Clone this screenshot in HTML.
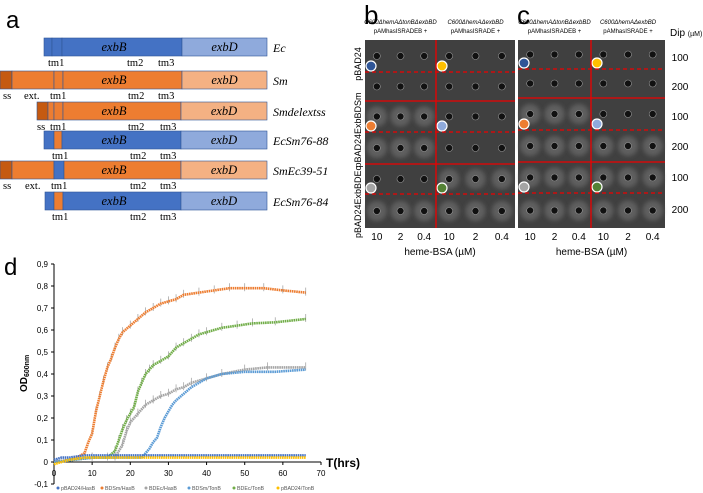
<!DOCTYPE html>
<html><head><meta charset="utf-8">
<style>
body{margin:0;background:#fff;width:703px;height:493px;overflow:hidden;font-family:"Liberation Sans",sans-serif}
svg{position:absolute;left:0;top:0}
.ser{font-family:"Liberation Serif",serif}
</style></head><body>
<svg id="fig" width="703" height="493" viewBox="0 0 703 493">
<defs><filter id="blur" x="-50%" y="-50%" width="200%" height="200%"><feGaussianBlur stdDeviation="2"/></filter></defs>
<g id="pa">
<text x="6" y="28" font-size="24">a</text>
</g>
<g id="pb">
<text x="364" y="24" font-size="26">b</text>
<text x="517" y="24" font-size="26">c</text>
</g>
<g id="pd">
<text x="4" y="275" font-size="24">d</text>
</g>
</svg>
<script>
// ---------- Panel d data ----------
const seriesNames=["pBAD24/HasB","BDSm/HasB","BDEc/HasB","BDSm/TonB","BDEc/TonB","pBAD24/TonB"];
const seriesColors=["#4472c4","#ed7d31","#a5a5a5","#5b9bd5","#70ad47","#ffc000"];
const tHasB0=[0,2,4,6,8,10,15,20,25,30,35,40,45,50,55,60,66];
const vHasB0=[0.01,0.02,0.02,0.025,0.03,0.03,0.03,0.03,0.03,0.03,0.03,0.03,0.03,0.03,0.03,0.03,0.03];
const tSmHasB=[0,4,6,8,9,10,11,12,13,14,15,16,17,18,20,22,24,26,28,30,32,34,38,42,46,50,55,60,66];
const vSmHasB=[0,0.01,0.02,0.04,0.09,0.13,0.23,0.30,0.37,0.43,0.47,0.52,0.56,0.59,0.62,0.65,0.68,0.70,0.72,0.73,0.74,0.76,0.77,0.78,0.79,0.79,0.79,0.78,0.77];
const tEcHasB=[0,5,10,16,18,19,20,22,24,26,28,30,32,34,36,40,44,50,56,66];
const vEcHasB=[0,0.01,0.02,0.02,0.08,0.14,0.18,0.22,0.26,0.28,0.30,0.31,0.33,0.34,0.36,0.38,0.40,0.42,0.43,0.43];
const tSmTonB=[0,5,10,15,20,23,25,26,27,28,29,30,31,32,34,36,38,40,44,50,58,66];
const vSmTonB=[0,0.01,0.02,0.02,0.02,0.02,0.06,0.09,0.11,0.16,0.20,0.23,0.26,0.28,0.31,0.34,0.36,0.38,0.40,0.41,0.41,0.42];
const tEcTonB=[0,5,10,14,16,17,18,19,20,21,22,23,24,25,26,28,30,32,34,36,38,40,44,48,52,58,66];
const vEcTonB=[0,0.01,0.02,0.02,0.05,0.10,0.15,0.19,0.22,0.25,0.32,0.36,0.40,0.42,0.44,0.46,0.48,0.52,0.54,0.56,0.58,0.59,0.61,0.62,0.63,0.635,0.65];
const tTonB0=[0,2,4,6,8,10,15,20,25,30,35,40,45,50,55,60,66];
const vTonB0=[-0.01,0.0,0.01,0.015,0.02,0.02,0.02,0.02,0.02,0.02,0.02,0.02,0.02,0.02,0.02,0.02,0.02];
const yTicks=["0,9","0,8","0,7","0,6","0,5","0,4","0,3","0,2","0,1","0","-0,1"];
const yTickVals=[0.9,0.8,0.7,0.6,0.5,0.4,0.3,0.2,0.1,0,-0.1];
const xTicks=[0,10,20,30,40,50,60,70];

const NS="http://www.w3.org/2000/svg";
function mk(tag,attrs,parent,txt){const e=document.createElementNS(NS,tag);for(const k in attrs)e.setAttribute(k,attrs[k]);if(txt!==undefined)e.textContent=txt;parent.appendChild(e);return e;}

const X=t=>54+t*(321-54)/70;
const Y=v=>462-v*(462-264)/0.9;
const pd=document.getElementById('pd');
let ax=mk('line',{x1:54,y1:Y(0.9),x2:54,y2:Y(-0.1),stroke:'#000','stroke-width':1},pd);


let xa=mk('line',{x1:54,y1:Y(0),x2:X(70),y2:Y(0),stroke:'#000','stroke-width':1},pd);


yTicks.forEach((l,i)=>{
  const y=Y(yTickVals[i]);
  let tk=mk('line',{x1:51,y1:y,x2:54,y2:y,stroke:'#000'},pd);
  
  
  let tl=mk('text',{x:48,y:y+3,'font-size':8,'text-anchor':'end'},pd,l);
  
  
});
xTicks.forEach(v=>{
  const x=X(v);
  let tk=mk('line',{x1:x,y1:Y(0),x2:x,y2:Y(0)+3,stroke:'#000'},pd);
  
  
  let tl=mk('text',{x:x,y:Y(0)+14,'font-size':8,'text-anchor':'middle'},pd,String(v));
  
  
});
let yt=mk('text',{x:0,y:0,'font-size':10,'font-weight':'bold',transform:'translate(27,392) rotate(-90)'},pd);
yt.innerHTML='OD<tspan font-size="7" dy="2">600nm</tspan>';


let xt=mk('text',{x:326,y:467,'font-size':12,'font-weight':'bold'},pd,'T(hrs)');



const sets=[[tHasB0,vHasB0],[tSmHasB,vSmHasB],[tEcHasB,vEcHasB],[tSmTonB,vSmTonB],[tEcTonB,vEcTonB],[tTonB0,vTonB0]];
const order=[2,1,4,3,0,5];
order.forEach(i=>{
  const [ts,vs]=sets[i];
  const g=mk('g',{},pd);
  
  
  if(i===2||i===4||i===1){
    ts.forEach((t,j)=>{ if(t>=10){ let eb=mk('line',{x1:X(t),y1:Y(vs[j])-5,x2:X(t),y2:Y(vs[j])+3,stroke:'#999','stroke-width':0.7},g);
      
      }});
  }
  let pl=mk('polyline',{points:ts.map((t,j)=>X(t)+','+Y(vs[j])).join(' '),fill:'none',stroke:seriesColors[i],'stroke-width':2.6,'stroke-dasharray':'1.6 0.6'},g);
  
  
});
let lx=58;
const lw=[44,44,43,45,44,45];
seriesNames.forEach((n,i)=>{
  const g=mk('g',{},pd);
  
  
  mk('circle',{cx:lx,cy:488,r:1.5,fill:seriesColors[i]},g);
  mk('text',{x:lx+3,y:490,'font-size':5.3,fill:'#555'},g,n);
  lx+=lw[i];
});

// ---------- Panel a ----------
const pa=document.getElementById('pa');
const B='#4472c4',BL='#8faadc',O='#ed7d31',OL='#f4b183',OD='#c55a11';
const rows=[
 {y:38,name:'Ec',segs:[[44,52,B],[52,62,B],[62,182,B]],d:[182,267,BL],labs:[[48,'tm1'],[127,'tm2'],[158,'tm3']]},
 {y:71,name:'Sm',segs:[[0,12,OD],[12,54,O],[54,63,O],[63,182,O]],d:[182,267,OL],labs:[[3,'ss'],[24,'ext.'],[50,'tm1'],[128,'tm2'],[158,'tm3']]},
 {y:102,name:'Smdelextss',segs:[[37,48,OD],[48,54,O],[54,63,O],[63,181,O]],d:[181,267,OL],labs:[[37,'ss'],[50,'tm1'],[128,'tm2'],[160,'tm3']]},
 {y:131,name:'EcSm76-88',segs:[[44,54,B],[54,62,O],[62,181,B]],d:[181,267,BL],labs:[[52,'tm1'],[130,'tm2'],[160,'tm3']]},
 {y:161,name:'SmEc39-51',segs:[[0,12,OD],[12,54,O],[54,64,B],[64,181,O]],d:[181,267,OL],labs:[[3,'ss'],[25,'ext.'],[51,'tm1'],[130,'tm2'],[160,'tm3']]},
 {y:192,name:'EcSm76-84',segs:[[45,54,B],[54,63,O],[63,181,B]],d:[181,267,BL],labs:[[52,'tm1'],[130,'tm2'],[160,'tm3']]}
];
rows.forEach(r=>{
  const g=mk('g',{},pa);
  
  
  r.segs.forEach(s=>mk('rect',{x:s[0],y:r.y,width:s[1]-s[0],height:18,fill:s[2],stroke:'#2f5597','stroke-width':0.6},g));
  mk('rect',{x:r.d[0],y:r.y,width:r.d[1]-r.d[0],height:18,fill:r.d[2],stroke:'#2f5597','stroke-width':0.6},g);
  mk('text',{x:114,y:r.y+13,'font-size':12.5,'font-style':'italic','text-anchor':'middle',class:'ser'},g,'exbB');
  mk('text',{x:(r.d[0]+r.d[1])/2,y:r.y+13,'font-size':12.5,'font-style':'italic','text-anchor':'middle',class:'ser'},g,'exbD');
  mk('text',{x:273,y:r.y+14,'font-size':12,'font-style':'italic',class:'ser'},g,r.name);
  r.labs.forEach(l=>mk('text',{x:l[0],y:r.y+28,'font-size':10.5,class:'ser'},g,l[1]));
});

// ---------- Panels b,c plates ----------
const pb=document.getElementById('pb');
const plates=[{x0:365,x1:515,xm:436,hs:[101,164],ds:[72,132,194],left:'b'},{x0:518,x1:665,xm:591,hs:[98,162],ds:[69,130,193],left:'c'}];
const dotCols=[['#2f5597','#ffc000'],['#ed7d31','#8faadc'],['#a5a5a5','#548235']];
const halos=[[[0,0],[0,0],[1,0],[1,0],[0,1],[1,1]],[[0,0],[0,0],[1,0],[1,1],[1,1],[1,1]]];
plates.forEach((p,pi)=>{
  const g=mk('g',{},pb);
  
  
  mk('rect',{x:p.x0,y:40,width:p.x1-p.x0,height:188,fill:'#404040'},g);
  const rowsY=[40,p.ds[0],p.hs[0],p.ds[1],p.hs[1],p.ds[2],228];
  for(let r=0;r<6;r++){
    const cy=(rowsY[r]+rowsY[r+1])/2;
    for(let h=0;h<2;h++){
      const xa=h?p.xm:p.x0, xb=h?p.x1:p.xm;
      for(let c=0;c<3;c++){
        const cx=xa+(xb-xa)*(c*2+1)/6;
        if(halos[pi][r][h]) mk('circle',{cx:cx,cy:cy,r:10,fill:'#5e5e5e',filter:'url(#blur)'},g);
        mk('circle',{cx:cx,cy:cy,r:3.5,fill:'#111',stroke:'#999','stroke-width':0.6},g);
      }
      if(r%2===0){
        mk('circle',{cx:xa+6,cy:p.ds[r/2]-6,r:5,fill:dotCols[r/2][h],stroke:'#fff','stroke-width':1.2},g);
      }
    }
  }
  p.hs.forEach(y=>mk('line',{x1:p.x0,y1:y,x2:p.x1,y2:y,stroke:'#e00','stroke-width':1.3},g));
  p.ds.forEach(y=>mk('line',{x1:p.x0,y1:y,x2:p.x1,y2:y,stroke:'#e00','stroke-width':1.3,'stroke-dasharray':'4 3'},g));
  mk('line',{x1:p.xm,y1:40,x2:p.xm,y2:228,stroke:'#e00','stroke-width':1.3},g);
  const lbl=['10','2','0.4'];
  for(let h=0;h<2;h++){const xa=h?p.xm:p.x0, xb=h?p.x1:p.xm;
    for(let c=0;c<3;c++) mk('text',{x:xa+(xb-xa)*(c*2+1)/6,y:240,'font-size':10,'text-anchor':'middle'},g,lbl[c]);}
  mk('text',{x:(p.x0+p.x1)/2,y:255,'font-size':10,'text-anchor':'middle'},g,'heme-BSA (µM)');
  mk('text',{x:(p.x0+p.xm)/2,y:24,'font-size':6,'font-style':'italic','text-anchor':'middle'},g,'C600ΔhemAΔtonBΔexbBD');
  mk('text',{x:(p.x0+p.xm)/2,y:33,'font-size':6,'text-anchor':'middle'},g,'pAMhasISRADEB +');
  mk('text',{x:(p.xm+p.x1)/2,y:24,'font-size':6,'font-style':'italic','text-anchor':'middle'},g,'C600ΔhemAΔexbBD');
  mk('text',{x:(p.xm+p.x1)/2,y:33,'font-size':6,'text-anchor':'middle'},g,'pAMhasISRADE +');
});
[['pBAD24',64],['pBAD24ExbBDSm',130],['pBAD24ExbBDEc',202]].forEach(a=>{
  const t=mk('text',{x:0,y:0,'font-size':9,'text-anchor':'middle',transform:`translate(361,${a[1]}) rotate(-90)`},pb,a[0]);
  
  
});
let dip=mk('text',{x:670,y:36,'font-size':10},pb);
dip.innerHTML='Dip <tspan font-size="7">(µM)</tspan>';


[[57,'100'],[86,'200'],[116,'100'],[146,'200'],[177,'100'],[209,'200']].forEach(a=>{
  const t=mk('text',{x:680,y:a[0]+4,'font-size':10,'text-anchor':'middle'},pb,a[1]);
  
  
});
</script>
</body></html>
